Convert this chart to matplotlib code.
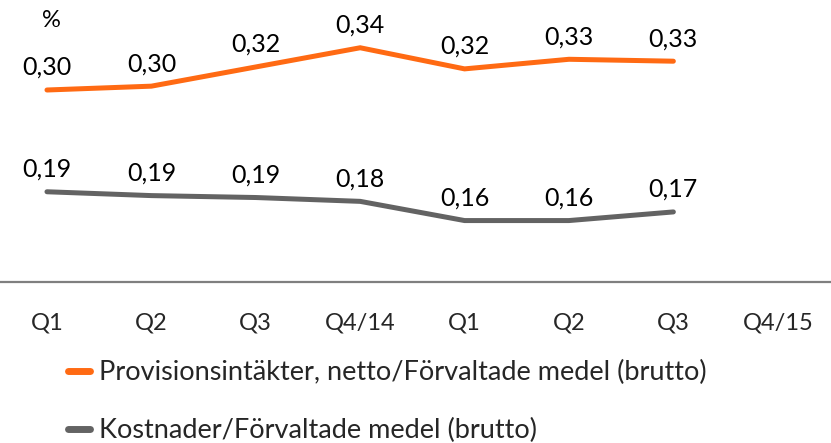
import numpy as np
import matplotlib
matplotlib.use("Agg")
from matplotlib import pyplot as plt
from matplotlib.lines import Line2D

plt.rcParams['font.family'] = ['Lato', 'DejaVu Sans']

# Quarters, 2014 and 2015
quarters = ["Q1", "Q2", "Q3", "Q4/14", "Q1", "Q2", "Q3", "Q4/15"]

# Ratios in percent (Q4/15 not yet reported)
provision = [0.300, 0.304, 0.324, 0.344, 0.322, 0.332, 0.330]
kostnader = [0.194, 0.190, 0.188, 0.184, 0.164, 0.164, 0.173]

labels = ["Provisionsintäkter, netto/Förvaltade medel (brutto)",
          "Kostnader/Förvaltade medel (brutto)"]

orange = "#FF6A13"
grey = "#636363"

W, H, dpi = 831, 443, 100
fig = plt.figure(figsize=(W / dpi, H / dpi), dpi=dpi)

# axes spans full width, bottom spine at y=282 px
ax_bottom = 282
ax = fig.add_axes([0, (H - ax_bottom) / H, 1, ax_bottom / H])
px_per_unit = 960.0
ax.set_ylim(0.10, 0.10 + ax_bottom / px_per_unit)
ax.set_xlim(-0.45, 7.51)

x = np.arange(len(provision))
ax.plot(x, provision, color=orange, lw=3.6, solid_capstyle='round', solid_joinstyle='miter')
ax.plot(x, kostnader, color=grey, lw=3.6, solid_capstyle='round', solid_joinstyle='miter')

for xs, series in [(x, provision), (x, kostnader)]:
    for xi, v in zip(xs, series):
        ax.annotate(f"{v:.2f}".replace(".", ","), (xi, v), xytext=(0, 10.8),
                    textcoords='offset points', ha='center', va='baseline',
                    fontsize=18, color='black')

for s in ['left', 'right', 'top']:
    ax.spines[s].set_visible(False)
ax.spines['bottom'].set_color('#7f7f7f')
ax.spines['bottom'].set_linewidth(1.6)
ax.set_yticks([])
ax.set_xticks(np.arange(len(quarters)))
ax.set_xticklabels(quarters, fontsize=17, color='#262626')
ax.tick_params(axis='x', length=0, pad=22)

fig.text(51 / W, 1 - 27 / H, "%", ha='center', va='baseline', fontsize=17, color='black')

handles = [Line2D([], [], color=orange, lw=5, solid_capstyle='round'),
           Line2D([], [], color=grey, lw=5, solid_capstyle='round')]
fig.legend(handles, labels, loc='upper left', bbox_to_anchor=(68 / W, 1 - 360 / H),
           frameon=False, fontsize=19.5, handlelength=0.81, handletextpad=0.35,
           labelspacing=1.22, borderaxespad=0, borderpad=0, labelcolor='#262626')

fig.savefig("out.png", dpi=dpi)
